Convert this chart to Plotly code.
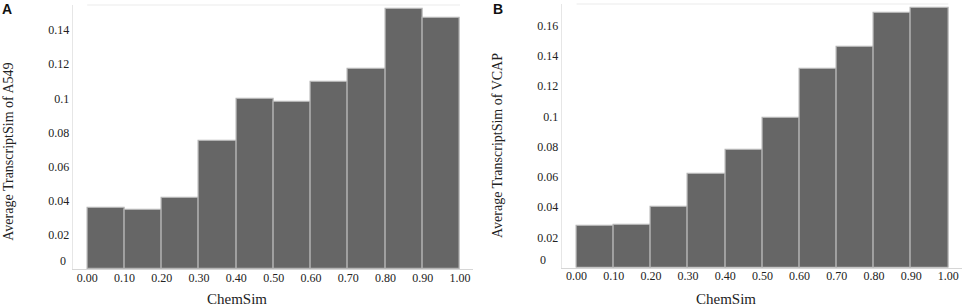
import plotly.graph_objects as go

# ---- data ----
bin_edges = [0.0, 0.1, 0.2, 0.3, 0.4, 0.5, 0.6, 0.7, 0.8, 0.9, 1.0]
bin_centers = [0.05, 0.15, 0.25, 0.35, 0.45, 0.55, 0.65, 0.75, 0.85, 0.95]
x_tick_labels = ["0.00", "0.10", "0.20", "0.30", "0.40", "0.50",
                 "0.60", "0.70", "0.80", "0.90", "1.00"]

a549_values = [0.0357, 0.0348, 0.0415, 0.0752, 0.0996, 0.0981, 0.1098, 0.1174, 0.1523, 0.1469]
vcap_values = [0.0272, 0.0283, 0.0404, 0.0619, 0.0776, 0.0991, 0.1312, 0.1457, 0.1681, 0.1714]

a549_yticks = [0.02, 0.04, 0.06, 0.08, 0.10, 0.12, 0.14]
a549_yticklabels = ["0.02", "0.04", "0.06", "0.08", "0.1", "0.12", "0.14"]
vcap_yticks = [0.02, 0.04, 0.06, 0.08, 0.10, 0.12, 0.14, 0.16]
vcap_yticklabels = ["0.02", "0.04", "0.06", "0.08", "0.1", "0.12", "0.14", "0.16"]

x_title = "ChemSim"
a549_ytitle = "Average TranscriptSim of A549"
vcap_ytitle = "Average TranscriptSim of VCAP"

# ---- styling ----
W, H = 964, 306
SERIF = "Liberation Serif, Times New Roman, serif"
SANS = "Liberation Sans, Arial, sans-serif"
TXT = "#222222"
BAR = "#666666"
EDGE = "#b4b4b4"


def px(x):
    return x / W


def py(y):
    return (H - y) / H


fig = go.Figure()
fig.add_trace(go.Bar(x=bin_centers, y=a549_values, width=0.1, xaxis="x", yaxis="y",
                     marker=dict(color=BAR, line=dict(color=EDGE, width=1.2)),
                     showlegend=False, hoverinfo="x+y"))
fig.add_trace(go.Bar(x=bin_centers, y=vcap_values, width=0.1, xaxis="x2", yaxis="y2",
                     marker=dict(color=BAR, line=dict(color=EDGE, width=1.2)),
                     showlegend=False, hoverinfo="x+y"))

tickfont = dict(family=SERIF, size=12, color=TXT)
common_x = dict(tickvals=bin_edges, ticktext=x_tick_labels, showline=True,
                linecolor="#d6d6d6", linewidth=1, showgrid=False, zeroline=False,
                ticks="", tickfont=tickfont, fixedrange=True, ticklabelstandoff=-3)
common_y = dict(showline=True, linecolor="#e6e6e6", linewidth=1, showgrid=False,
                zeroline=False, ticks="", tickfont=tickfont, fixedrange=True)

fig.update_layout(
    width=W, height=H,
    margin=dict(l=0, r=0, t=0, b=0, autoexpand=False),
    paper_bgcolor="white", plot_bgcolor="white",
    bargap=0,
    xaxis=dict(domain=[px(72.7), px(472.7)], range=[-0.039, 1.034], anchor="y", **common_x),
    yaxis=dict(domain=[py(269.2), py(5)], range=[0, 0.1547], anchor="x",
               tickvals=a549_yticks, ticktext=a549_yticklabels, **common_y),
    xaxis2=dict(domain=[px(561.7), px(961.7)], range=[-0.040, 1.036], anchor="y2", **common_x),
    yaxis2=dict(domain=[py(267.6), py(4)], range=[0, 0.1743], anchor="x2",
                tickvals=vcap_yticks, ticktext=vcap_yticklabels, **common_y),
)

# faint top border lines over the bar span
for xr, yr in (("x", "y"), ("x2", "y2")):
    fig.add_shape(type="line", xref=xr, yref=f"{yr} domain",
                  x0=bin_edges[0], x1=bin_edges[-1], y0=1, y1=1,
                  line=dict(color="#f2f2f2", width=1.5))

ann = []
# raised zero labels
ann.append(dict(text="0", xref="x domain", yref="y", x=0, y=0, xanchor="right", yanchor="middle",
                xshift=-4.4, yshift=8, showarrow=False, font=tickfont))
ann.append(dict(text="0", xref="x2 domain", yref="y2", x=0, y=0, xanchor="right", yanchor="middle",
                xshift=-13.4, yshift=8, showarrow=False, font=tickfont))
# axis titles
ann.append(dict(text=x_title, xref="paper", yref="paper", x=px(236.7), y=py(299),
                xanchor="center", yanchor="middle", showarrow=False,
                font=dict(family=SERIF, size=15, color=TXT)))
ann.append(dict(text=x_title, xref="paper", yref="paper", x=px(726), y=py(299),
                xanchor="center", yanchor="middle", showarrow=False,
                font=dict(family=SERIF, size=15, color=TXT)))
ann.append(dict(text=a549_ytitle, xref="paper", yref="paper", x=px(9), y=py(151.7),
                xanchor="center", yanchor="middle", textangle=-90, showarrow=False,
                font=dict(family=SERIF, size=14, color=TXT)))
ann.append(dict(text=vcap_ytitle, xref="paper", yref="paper", x=px(497), y=py(145),
                xanchor="center", yanchor="middle", textangle=-90, showarrow=False,
                font=dict(family=SERIF, size=14, color=TXT)))
# panel letters
ann.append(dict(text="<b>A</b>", xref="paper", yref="paper", x=px(7), y=py(8.5),
                xanchor="center", yanchor="middle", showarrow=False,
                font=dict(family=SANS, size=14, color="#111111")))
ann.append(dict(text="<b>B</b>", xref="paper", yref="paper", x=px(497.5), y=py(8.5),
                xanchor="center", yanchor="middle", showarrow=False,
                font=dict(family=SANS, size=14, color="#111111")))
fig.update_layout(annotations=ann)

fig.write_html("out.html", config={"displayModeBar": False},
               post_script="document.body.style.margin='0';document.body.style.overflow='hidden';")
